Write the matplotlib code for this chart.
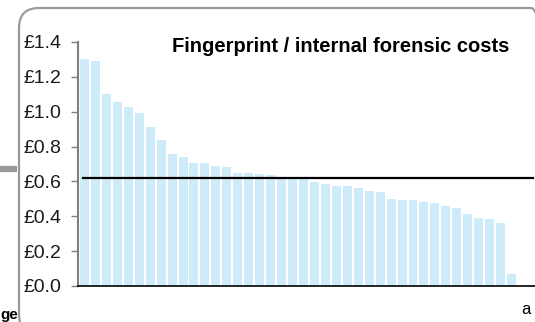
import matplotlib
matplotlib.use("Agg")
import matplotlib.pyplot as plt
from matplotlib.patches import FancyBboxPatch
from matplotlib.lines import Line2D

plt.rcParams['font.family'] = ['Liberation Sans', 'DejaVu Sans']

TITLE = "Fingerprint / internal forensic costs"
# cost per force, sorted high to low (GBP)
costs = [1.30, 1.29, 1.10, 1.055, 1.025, 0.995, 0.915, 0.84, 0.755, 0.74,
         0.705, 0.705, 0.69, 0.68, 0.65, 0.65, 0.64, 0.635, 0.625, 0.62,
         0.62, 0.598, 0.583, 0.575, 0.573, 0.56, 0.545, 0.54, 0.497, 0.493,
         0.493, 0.482, 0.474, 0.461, 0.449, 0.415, 0.39, 0.384, 0.361, 0.067]
average = 0.62
yticks = [0.0, 0.2, 0.4, 0.6, 0.8, 1.0, 1.2, 1.4]
ytick_labels = ["£0.0", "£0.2", "£0.4", "£0.6", "£0.8", "£1.0", "£1.2", "£1.4"]

W, H = 535, 322
fig = plt.figure(figsize=(W / 100, H / 100), dpi=100)
ax = fig.add_axes([78 / W, 36 / H, (535 - 78) / W, (286 - 42) / H])

x = range(len(costs))
ax.bar(x, costs, width=0.82, color="#cdebf8", edgecolor="none")
ax.plot([-0.14, 40.96], [average, average], color="black", lw=1.6)

ax.set_xlim(-0.59, 41.14)
ax.set_ylim(0, 1.4)
ax.set_yticks(yticks)
ax.set_yticklabels(ytick_labels, fontsize=14, color="#1a1a1a")
ax.set_xticks([])
ax.tick_params(axis="y", length=5, width=1, color="#7f7f7f", pad=7)
for s in ["top", "right"]:
    ax.spines[s].set_visible(False)
ax.spines["left"].set_color("#7f7f7f")
ax.spines["left"].set_linewidth(1.5)
ax.spines["bottom"].set_color("black")
ax.spines["bottom"].set_linewidth(1.2)

fig.text(341 / W, 1 - 46 / H, TITLE, ha="center", va="center",
         fontsize=14.5, fontweight="bold")

# surrounding panel and neighbouring fragments
box = FancyBboxPatch((19, -12), 532, H - 8 + 12,
                     boxstyle="round,pad=0,rounding_size=20",
                     transform=None, facecolor="none",
                     edgecolor="#9a9a9a", linewidth=1.6)
fig.add_artist(box)
fig.add_artist(Line2D([0, 17], [H - 169, H - 169], transform=None,
                      color="#999999", linewidth=4.5, solid_capstyle="butt"))
fig.text(0.5 / W, 1 - 315 / H, "ge", ha="left", va="center",
         fontsize=11, fontweight="bold")
fig.text(521 / W, 1 - 310 / H, "a", ha="left", va="center", fontsize=12)

fig.savefig("out.png", dpi=100)
